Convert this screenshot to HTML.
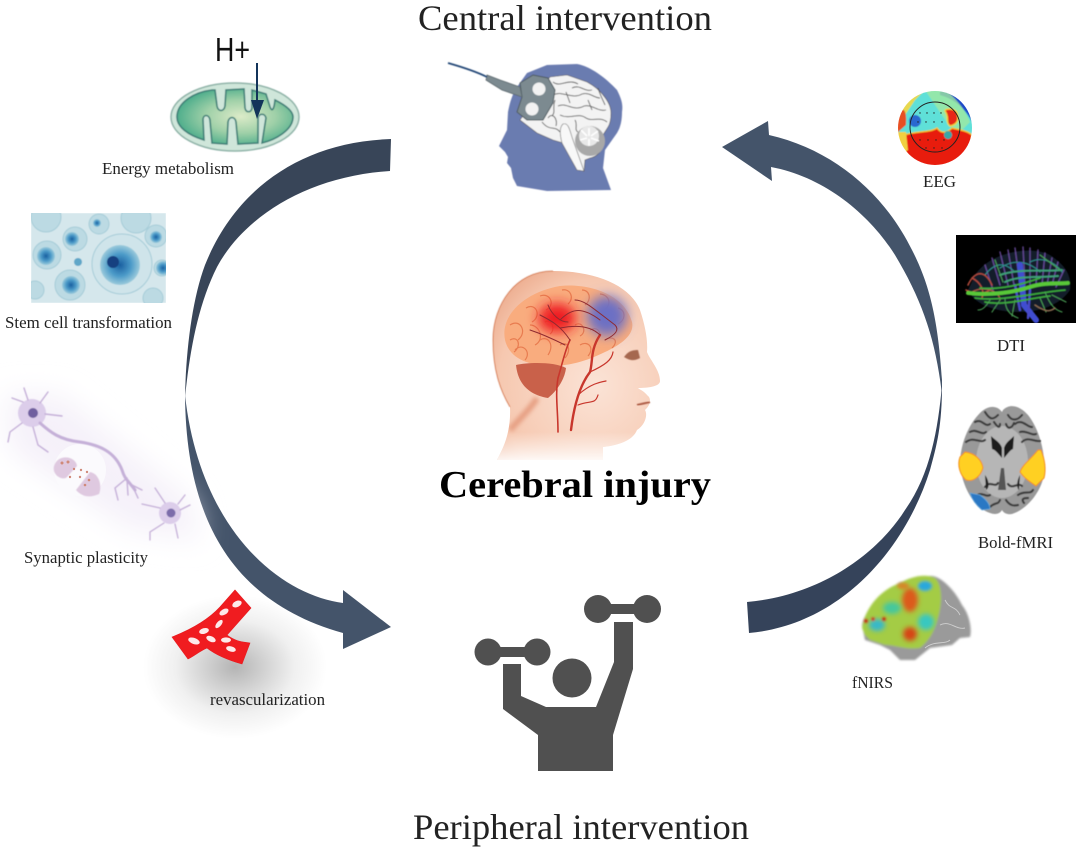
<!DOCTYPE html>
<html><head><meta charset="utf-8"><title>Cerebral injury</title>
<style>html,body{margin:0;padding:0;background:#fff}svg{display:block}
text{font-family:"Liberation Serif",serif;fill:#222}
.l{font-size:17px}</style></head><body>
<svg width="1080" height="852" viewBox="0 0 1080 852" xmlns="http://www.w3.org/2000/svg">
<defs>
<filter id="b05" x="-10%" y="-10%" width="120%" height="120%"><feGaussianBlur stdDeviation="0.5"/></filter>
<filter id="b1" x="-20%" y="-20%" width="140%" height="140%"><feGaussianBlur stdDeviation="1"/></filter>
<filter id="b2" x="-30%" y="-30%" width="160%" height="160%"><feGaussianBlur stdDeviation="2.2"/></filter>
<filter id="b6" x="-60%" y="-60%" width="220%" height="220%"><feGaussianBlur stdDeviation="6"/></filter>
<filter id="b14" x="-80%" y="-80%" width="260%" height="260%"><feGaussianBlur stdDeviation="14"/></filter>
<radialGradient id="mito" cx="55%" cy="50%" r="55%"><stop offset="0" stop-color="#dcebc8"/><stop offset=".55" stop-color="#9fd0a8"/><stop offset="1" stop-color="#4fae8c"/></radialGradient>
<radialGradient id="shadow"><stop offset="0" stop-color="#b4b4b4"/><stop offset=".3" stop-color="#d0d0d0"/><stop offset=".65" stop-color="#f0f0f0"/><stop offset="1" stop-color="#fff"/></radialGradient>
<radialGradient id="cell"><stop offset="0" stop-color="#1a5fa0"/><stop offset=".55" stop-color="#4b9ac8"/><stop offset="1" stop-color="#9ccbdc"/></radialGradient>
<radialGradient id="skin" cx="60%" cy="60%" r="75%"><stop offset="0" stop-color="#fbe3d6"/><stop offset=".7" stop-color="#f6c8b0"/><stop offset="1" stop-color="#e8a080"/></radialGradient>
<linearGradient id="fade" x1="0" y1="0" x2="0" y2="1"><stop offset="0" stop-color="#fff" stop-opacity="0"/><stop offset="1" stop-color="#fff"/></linearGradient>
<clipPath id="stemc"><rect x="31" y="213" width="135" height="90"/></clipPath>
<clipPath id="eegc"><circle cx="935" cy="128" r="37"/></clipPath>
<clipPath id="dtic"><rect x="956" y="235" width="120" height="88"/></clipPath>
<clipPath id="headc"><path d="M553 271C515 271 493 305 493 340C493 370 500 390 510 407C511 430 505 445 497 460L603 460L603 447C620 445 633 440 637 430C645 425 648 415 645 410C651 405 651 398 648 396C643 390 640 390 638 388C650 388 660 386 660 381C660 370 650 360 647 352C648 340 645 325 640 310C630 285 595 271 553 271Z"/></clipPath>
<clipPath id="brc"><path d="M505 340C500 315 525 292 560 286C590 283 625 295 632 322C635 335 620 345 605 352C585 362 570 365 555 366C530 366 510 360 505 340Z"/></clipPath>
</defs>
<rect width="1080" height="852" fill="#fff"/>

<!-- revascularization shadow -->
<ellipse cx="235" cy="667" rx="92" ry="72" fill="url(#shadow)"/>

<!-- curved arrows -->
<path d="M391 139C300 142 235 190 205 265C192 300 186 350 185 397C190 350 198 305 217 267C245 215 310 176 390 171Z" fill="#384558"/>
<path d="M185 395C186 510 225 600 343 633L343 649L391 627L343 590L343 603C280 595 200 530 185 395Z" fill="#44546a"/>
<path d="M942 380C938 320 930 285 912 250C885 195 835 150 769 135L768 121L722 147L772 181L771 167C825 177 870 215 895 255C922 300 936 340 942 395Z" fill="#44546a"/>
<path d="M942 385C942 425 937 445 930 470C905 550 840 625 749 633L747 602C825 595 880 550 905 510C930 475 938 430 942 385Z" fill="#35435a"/>

<!-- titles -->
<text x="418" y="30" font-size="36" textLength="294" lengthAdjust="spacingAndGlyphs">Central intervention</text>
<text x="413" y="839" font-size="36" textLength="336" lengthAdjust="spacingAndGlyphs">Peripheral intervention</text>
<text x="439" y="497" font-size="38" font-weight="bold" textLength="272" lengthAdjust="spacingAndGlyphs" style="fill:#000">Cerebral injury</text>

<!-- labels -->
<text class="l" x="102" y="174" textLength="132" lengthAdjust="spacingAndGlyphs">Energy metabolism</text>
<text class="l" x="5" y="328" textLength="167" lengthAdjust="spacingAndGlyphs">Stem cell transformation</text>
<text class="l" x="24" y="563" textLength="124" lengthAdjust="spacingAndGlyphs">Synaptic plasticity</text>
<text class="l" x="210" y="705" textLength="115" lengthAdjust="spacingAndGlyphs">revascularization</text>
<text class="l" x="923" y="187" textLength="33" lengthAdjust="spacingAndGlyphs">EEG</text>
<text class="l" x="997" y="351" textLength="28" lengthAdjust="spacingAndGlyphs">DTI</text>
<text class="l" x="978" y="548" textLength="75" lengthAdjust="spacingAndGlyphs">Bold-fMRI</text>
<text class="l" x="852" y="688" textLength="41" lengthAdjust="spacingAndGlyphs">fNIRS</text>
<text x="215" y="61" font-size="33" textLength="35" lengthAdjust="spacingAndGlyphs" style="font-family:'Liberation Sans',sans-serif;fill:#111">H+</text>

<!-- mitochondrion -->
<g filter="url(#b05)">
<ellipse cx="235" cy="117" rx="64" ry="34" fill="#cfe6da" stroke="#8fb3a8" stroke-width="1.5"/>
<path d="M177 117C177 102 195 92 212 90L215 90L217 106C218 112 224 112 225 106L226 90L244 89L245 108C246 113 251 113 252 108L252 90L266 94L270 107C272 112 274 110 275 100C283 104 293 110 293 117C293 130 275 140 262 143L266 118C265 113 259 113 258 118L258 143L238 144L236 122C235 116 229 116 228 122L227 144L212 143L210 120C209 114 203 114 203 120L204 140C188 135 177 127 177 117Z" fill="url(#mito)" stroke="#3c7f77" stroke-width="1.6"/>
</g>
<path d="M257 63V108" stroke="#13345a" stroke-width="2" fill="none"/>
<path d="M251 100L264 100L257 119Z" fill="#13345a"/>

<!-- stem cells -->
<g clip-path="url(#stemc)"><g filter="url(#b05)">
<rect x="31" y="213" width="135" height="90" fill="#d5e7ec"/>
<g fill="#bcdae3" stroke="#a5ccd8">
<circle cx="46" cy="217" r="15"/><circle cx="136" cy="218" r="15"/><circle cx="99" cy="224" r="10"/><circle cx="75" cy="239" r="12"/><circle cx="156" cy="236" r="11"/><circle cx="47" cy="255" r="14"/><circle cx="70" cy="285" r="15"/><circle cx="35" cy="290" r="9"/><circle cx="162" cy="268" r="8"/><circle cx="122" cy="264" r="30" fill="#cfe4ea"/><circle cx="153" cy="298" r="10"/>
</g>
<circle cx="120" cy="265" r="20" fill="url(#cell)"/><circle cx="113" cy="262" r="6" fill="#143f80"/>
<circle cx="46" cy="256" r="9" fill="url(#cell)"/><circle cx="72" cy="239" r="7" fill="url(#cell)"/><circle cx="71" cy="285" r="9" fill="url(#cell)"/><circle cx="156" cy="237" r="6" fill="url(#cell)"/><circle cx="163" cy="268" r="7" fill="url(#cell)"/><circle cx="97" cy="223" r="4" fill="url(#cell)"/><circle cx="78" cy="262" r="4" fill="#5ea6c8"/>
</g></g>

<!-- neurons -->
<path d="M5 395L60 395L190 500L200 540L130 530L10 450Z" fill="#f5f1f9" filter="url(#b14)"/>
<circle cx="80" cy="470" r="26" fill="#fbfafd"/>
<g filter="url(#b05)" fill="none" stroke="#c5b0d8" stroke-linecap="round">
<circle cx="32" cy="413" r="14" fill="#dccdea" stroke="none"/>
<circle cx="33" cy="413" r="5" fill="#6f5f9f" stroke="none"/>
<path d="M40 423C50 432 60 440 80 442C100 445 115 452 122 470C125 480 128 480 135 490" stroke-width="3"/>
<path d="M23 402L12 398M28 400L24 388M40 403L48 392M45 414L62 416M22 423L10 432L8 442M33 427L38 445L48 452" stroke-width="1.4"/>
<path d="M127 478L115 488L118 500M127 480L128 495M130 484L142 490M133 487L138 498" stroke-width="1.4"/>
<circle cx="170" cy="513" r="11" fill="#dccdea" stroke="none"/><circle cx="171" cy="513" r="4.5" fill="#7c6caa" stroke="none"/>
<path d="M160 508L142 504M164 523L150 532L150 540M175 524L178 538M178 504L185 495M180 510L190 505M165 503L155 488" stroke-width="1.3"/>
<path d="M54 466C58 453 76 456 77 466L66 478C60 480 52 474 54 466Z" fill="#dfc9e0" stroke="none"/>
<path d="M76 490L90 472C100 474 102 487 99 494C90 498 82 497 76 490Z" fill="#dfc9e0" stroke="none"/>
</g>
<g fill="#d08a7a"><circle cx="62" cy="463" r="1.5"/><circle cx="68" cy="462" r="1.5"/><circle cx="74" cy="469" r="1.2"/><circle cx="81" cy="470" r="1.2"/><circle cx="87" cy="472" r="1.2"/><circle cx="80" cy="477" r="1.2"/><circle cx="70" cy="477" r="1.2"/><circle cx="89" cy="480" r="1.3"/><circle cx="85" cy="485" r="1.3"/></g>

<!-- revascularization -->
<path d="M172 637C190 630 208 620 220 607L235 590L251 608L227 635C236 642 244 642 250 643L242 664C228 660 216 655 207 648C200 651 194 656 188 659Z" fill="#f01c20" stroke="#e61a1e" stroke-width=".6"/>
<g fill="#fdeaea"><ellipse cx="237" cy="604" rx="5" ry="3" transform="rotate(-25 237 604)"/><ellipse cx="224" cy="612" rx="5" ry="2.8" transform="rotate(-30 224 612)"/><ellipse cx="219" cy="624" rx="5" ry="2.4" transform="rotate(-50 219 624)"/><ellipse cx="204" cy="631" rx="5" ry="2.8" transform="rotate(-15 204 631)"/><ellipse cx="194" cy="641" rx="6" ry="3" transform="rotate(20 194 641)"/><ellipse cx="211" cy="639" rx="5" ry="2.8" transform="rotate(25 211 639)"/><ellipse cx="226" cy="640" rx="5" ry="2.6"/><ellipse cx="231" cy="649" rx="5" ry="2.6" transform="rotate(15 231 649)"/></g>

<!-- central head -->
<g filter="url(#b05)">
<path d="M547 65L577 64C590 66 606 78 617 90C622 100 623 105 622 112C622 122 620 128 617 133L605 150L603 168L611 190L547 191L517 186L513 178L511 168L507 163L508 157L505 152L499 146L507 130L508 112C510 102 512 95 517 87L527 73Z" fill="#6b7bb0"/>
<path d="M550 77L567 75L587 82C596 87 600 91 603 95C609 102 611 108 611 113C611 120 610 124 608 127L603 135L604 143C602 152 596 157 590 158L585 160L584 171L577 170L563 143L553 140L537 133L520 120Z" fill="#f3f3f3" stroke="#555" stroke-width=".6"/>
<circle cx="590" cy="141" r="15" fill="#a8a8a8"/>
<circle cx="589" cy="136" r="10" fill="#e8e8e8"/>
<path d="M587 136l-6-6M589 136l0-8M591 136l7-5M587 138l-7 2M591 138l8 3M589 139l0 7" stroke="#fff" stroke-width="1.6"/>
<path d="M563 124C569 122 570 132 573 140L584 171L577 170L562 143C560 135 559 128 563 124Z" fill="#f8f8f8" stroke="#666" stroke-width=".6"/>
<g fill="none" stroke="#555" stroke-width=".9">
<path d="M553 82C560 88 568 78 578 84M572 88C580 84 584 92 592 90M553 95C562 90 572 100 582 94C590 92 594 98 600 98M558 106C566 102 574 112 584 106C592 104 598 112 606 110M560 115C570 120 578 112 586 118C592 122 600 116 607 122M548 118C552 112 558 118 556 126M575 120C578 125 574 130 578 132M566 92L570 103M588 100L592 110M598 88C600 95 603 100 605 105M542 122C550 132 555 125 560 132M555 100C552 108 556 112 552 116"/>
</g>
<path d="M520 83L533 75L548 78L555 90L553 103L543 120L527 120L517 112L522 97Z" fill="#7c8a90" stroke="#4e5a60" stroke-width="1"/>
<path d="M487 75L500 80L520 87L522 97L502 90L486 80Z" fill="#7c8a90" stroke="#5c686e" stroke-width=".8"/>
<circle cx="539" cy="89" r="6.5" fill="#f2f2f2"/><circle cx="532" cy="109" r="6.5" fill="#f2f2f2"/>
<path d="M448 63C462 67 475 71 487 77" fill="none" stroke="#254a78" stroke-width="1.8"/>
</g>

<!-- cerebral injury head -->
<g clip-path="url(#headc)">
<rect x="485" y="265" width="185" height="200" fill="url(#skin)"/>
<path d="M505 340C500 315 525 292 560 286C590 283 625 295 632 322C635 335 620 345 605 352C585 362 570 365 555 366C530 366 510 360 505 340Z" fill="#f9ac7e"/>
<g clip-path="url(#brc)" fill="none" stroke="#e87c50" stroke-width="1.2">
<path d="M510 325C520 318 528 332 518 340M515 350C522 342 532 352 525 360M526 308C536 302 542 316 532 322M540 296C550 292 556 305 546 310M562 290C570 288 575 298 568 304M582 290C590 290 592 300 585 305M600 294C610 295 612 305 604 310M618 308C626 310 626 320 618 324M530 325C540 325 545 340 535 345M540 340C548 335 555 345 548 355M560 345C568 340 572 350 565 358M580 345C588 340 595 348 588 356M605 340C612 335 620 340 612 348M510 340C518 335 522 346 514 352M545 322C552 318 556 330 550 334M590 330C598 325 604 335 596 340M575 325C582 320 588 332 580 336"/>
</g>
<ellipse cx="557" cy="318" rx="19" ry="15" fill="#ee1c20" filter="url(#b6)"/>
<ellipse cx="607" cy="316" rx="20" ry="20" fill="#6c70c4" filter="url(#b6)"/>
<path d="M516 365C530 362 555 362 566 368C565 378 558 390 548 398C530 395 518 385 516 365Z" fill="#c9614a"/>
<path d="M537 398C530 410 518 420 510 430" stroke="#e69f82" stroke-width="6" fill="none" filter="url(#b2)"/>
<g fill="none" stroke="#c8362c" stroke-linecap="round">
<path d="M571 430C574 405 580 385 590 372C593 362 590 350 600 335" stroke-width="2.4"/>
<path d="M558 432C558 410 555 395 558 378C562 365 565 350 570 340" stroke-width="1.6"/>
<path d="M578 395C590 384 600 382 606 381M578 405C590 400 595 405 598 395M590 372C605 365 612 360 613 352" stroke-width="1.2"/>
</g>
<g fill="none" stroke="#8e2a30" stroke-width="1" stroke-linecap="round">
<path d="M570 340C560 325 550 320 540 315M565 345C555 340 545 335 530 330M560 320C570 310 580 305 600 320M575 300C585 300 595 310 615 325C620 330 615 335 605 340M600 335C590 325 575 325 560 328M548 305C552 315 560 322 568 322"/>
</g>
<rect x="485" y="432" width="185" height="32" fill="url(#fade)"/>
</g>
<path d="M553 271C515 271 493 305 493 340C493 370 500 390 510 407" fill="none" stroke="#d98a68" stroke-width="1" filter="url(#b05)"/>
<path d="M638 350C628 350 626 355 624 357C632 362 636 360 640 358Z" fill="#a5674f" filter="url(#b05)"/>
<path d="M637 405L650 402" stroke="#b0604a" stroke-width="2" filter="url(#b05)"/>

<!-- dumbbell figure -->
<g fill="#505050">
<circle cx="488" cy="652" r="13.5"/><circle cx="537" cy="652" r="13.5"/><rect x="488" y="647" width="49" height="10"/>
<circle cx="598" cy="609" r="14"/><circle cx="647" cy="609" r="14"/><rect x="598" y="604" width="49" height="10"/>
<circle cx="572" cy="678" r="19.5"/>
<path d="M503 664H521V696L546 707H596L614 662V622H633V669L613 735V771H538V735L503 709Z"/>
</g>

<!-- EEG -->
<g clip-path="url(#eegc)"><g filter="url(#b05)">
<rect x="896" y="90" width="78" height="78" fill="#5fe0d8"/>
<path d="M896 90H925L915 100L905 115L896 125Z" fill="#e8d850"/>
<path d="M940 88H975V128C968 112 958 100 940 95Z" fill="#1f48c8"/>
<path d="M925 90H945C958 100 965 110 970 122L962 130L950 127Z" fill="#a0e8a0" opacity=".8"/>
<ellipse cx="915" cy="121" rx="6" ry="6" fill="#2b68d0"/>
<path d="M945 111C945 108 955 108 957 113C960 122 955 125 950 126C945 122 950 118 945 111Z" fill="#e82818" stroke="#f0d040" stroke-width="1.5"/>
<path d="M905 135C915 131 930 133 937 128C942 135 948 132 952 128C960 130 968 131 972 135C972 155 955 170 935 170C915 170 900 155 905 135Z" fill="#e81c10" stroke="#f0c030" stroke-width="1.5"/>
<path d="M896 110H904C907 115 906 120 906 125L898 132L896 132Z" fill="#e85020"/>
<path d="M895 132H906L908 150L900 155Z" fill="#f0d040"/>
<circle cx="948" cy="135" r="4" fill="#38a8a8"/>
</g></g>
<circle cx="935" cy="127" r="25" fill="none" stroke="#222" stroke-width="1"/>
<g fill="#222"><circle cx="920" cy="113" r=".7"/><circle cx="927" cy="113" r=".7"/><circle cx="934" cy="113" r=".7"/><circle cx="941" cy="113" r=".7"/><circle cx="918" cy="122" r=".7"/><circle cx="926" cy="122" r=".7"/><circle cx="934" cy="122" r=".7"/><circle cx="942" cy="122" r=".7"/><circle cx="920" cy="140" r=".7"/><circle cx="928" cy="140" r=".7"/><circle cx="936" cy="140" r=".7"/><circle cx="944" cy="140" r=".7"/><circle cx="926" cy="148" r=".7"/><circle cx="934" cy="148" r=".7"/><circle cx="942" cy="148" r=".7"/></g>

<!-- DTI -->
<rect x="956" y="235" width="120" height="88" fill="#000"/>
<g clip-path="url(#dtic)" fill="none" filter="url(#b05)" stroke-linecap="round">
<path d="M975 275C990 252 1030 245 1050 255C1065 265 1072 275 1070 290C1060 305 1040 312 1020 312C995 312 975 305 968 290Z" fill="#1a2a3a" stroke="none" opacity=".7"/>
<path d="M985 265L993 290M992 258L1000 285M1000 252L1008 285M1008 250L1014 285M1015 248L1020 285M1023 247L1025 285M1030 248L1030 285M1038 250L1036 285M1045 253L1042 285M1052 258L1047 285M1058 262L1052 285M1064 270L1056 287" stroke="#7a55b5" stroke-width="1.5" opacity=".75"/>
<path d="M985 275C995 262 1005 262 1015 272M1000 268C1015 258 1030 262 1040 272M1030 262C1042 256 1055 262 1062 272" stroke="#2e8a8a" stroke-width="1.2"/>
<path d="M968 285C975 270 985 270 992 285M966 290C975 295 985 295 992 288M972 278C980 282 985 290 982 298" stroke="#b04a3c" stroke-width="1.6"/>
<path d="M972 292C985 285 1000 292 1000 300" stroke="#a05a45" stroke-width="1.5"/>
<path d="M1020 265L1024 305L1036 320" stroke="#3f4dd0" stroke-width="6"/>
<path d="M1030 290L1028 318M1015 285L1020 310" stroke="#4a48c8" stroke-width="2.5"/>
<path d="M968 293C990 296 1015 292 1030 287C1045 282 1060 284 1068 283" stroke="#58c838" stroke-width="4"/>
<path d="M975 298C1000 302 1040 292 1065 290M980 288C1000 290 1020 285 1040 278M985 302C1005 306 1030 298 1050 296" stroke="#3aa83a" stroke-width="1.8"/>
<path d="M1000 275C1020 268 1045 272 1062 270M1005 282C1020 275 1040 278 1058 276" stroke="#3e9f78" stroke-width="2"/>
<path d="M990 300C985 308 982 310 978 310M1045 292C1050 305 1055 310 1062 312M1005 298C1005 310 1010 315 1018 318M1040 255L1060 270M995 260L1003 282M1000 300L992 312M1052 295L1066 302M1040 298L1046 312M1015 300L1012 316" stroke="#4a9f55" stroke-width="1.1"/>
<path d="M1035 305C1045 312 1050 312 1055 308" stroke="#8a6a50" stroke-width="1.5"/>
</g>

<!-- fMRI -->
<g filter="url(#b05)">
<path d="M1003 410C1010 403 1020 406 1028 415C1040 430 1046 455 1044 475C1040 495 1025 510 1012 514C1006 515 1003 512 1002 510C1000 514 995 515 990 513C975 508 963 490 960 465C960 445 968 425 980 413C988 405 997 405 1002 412Z" fill="#999"/>
<ellipse cx="1002" cy="462" rx="26" ry="36" fill="#b6b6b6"/>
<g fill="none" stroke="#3e3e3e" stroke-width="2.2" stroke-linecap="round">
<path d="M975 422C982 418 985 428 990 424M970 432C976 428 982 436 986 432M1015 424C1022 418 1028 428 1032 427M1020 432C1026 430 1032 436 1036 434M966 442C974 436 980 444 985 440M1022 442C1028 436 1034 442 1040 441M985 412C990 420 993 420 998 415M1008 415C1012 422 1018 420 1022 415M994 422C998 428 1000 428 1000 424M1006 424C1008 430 1012 428 1014 423M975 497C982 490 985 498 990 495M1018 495C1025 490 1030 495 1033 490M990 507C995 502 998 505 1000 500M1006 500C1010 506 1014 506 1018 505M985 487C990 480 995 488 998 483M1008 484C1012 490 1018 482 1022 486M1024 503C1020 498 1026 498 1028 498"/>
</g>
<path d="M991 436C995 440 1000 442 1002 448V458C998 454 996 450 992 449ZM1014 436C1010 440 1006 442 1004 448V458C1008 454 1010 450 1013 449Z" fill="#1e1e1e"/>
<path d="M985 475C989 480 990 488 986 490ZM1020 475C1017 480 1016 488 1019 490Z" fill="#222"/>
<path d="M1001 468L1004 468L1006 490H998Z" fill="#555"/>
<path d="M965 452C975 453 982 460 983 468C980 478 972 482 966 480C960 475 957 465 960 457Z" fill="#ffd024" stroke="#f28a1a" stroke-width="1"/>
<path d="M1041 450C1045 460 1046 470 1044 478L1036 486C1030 482 1024 478 1020 472C1022 465 1030 460 1038 450Z" fill="#ffd024" stroke="#f28a1a" stroke-width="1"/>
<path d="M970 493L980 495C987 500 990 505 990 509L982 510C976 505 972 500 970 493Z" fill="#2c78c4" stroke="#68a8d8" stroke-width=".8"/>
</g>

<!-- fNIRS -->
<g filter="url(#b1)">
<path d="M930 576C940 575 955 590 962 605C970 615 972 630 970 637L960 638L952 645L930 648L915 660L900 660L890 650L880 645L865 640L862 625C865 610 880 595 900 582Z" fill="#9a9a9a"/>
<path d="M900 583C910 577 925 573 935 578C943 585 942 605 938 618C935 630 930 640 920 648C905 650 895 645 885 645L870 640L865 635L862 628C865 608 880 590 900 583Z" fill="#a4cc44"/>
<ellipse cx="910" cy="600" rx="8" ry="12" fill="#dc5a1c" filter="url(#b2)"/>
<ellipse cx="910" cy="634" rx="7" ry="7" fill="#d64418" filter="url(#b2)"/>
<ellipse cx="925" cy="586" rx="7" ry="5" fill="#2ca8dc" filter="url(#b1)"/>
<ellipse cx="926" cy="622" rx="8" ry="8" fill="#38c8c0" filter="url(#b2)"/>
<ellipse cx="892" cy="608" rx="9" ry="6" fill="#44c89c" filter="url(#b2)"/>
<ellipse cx="877" cy="625" rx="8" ry="6" fill="#38b8c8" filter="url(#b2)"/>
<ellipse cx="903" cy="586" rx="6" ry="3.5" fill="#d4882a" filter="url(#b1)"/>
<circle cx="866" cy="621" r="2.3" fill="#c01e10"/><circle cx="873" cy="619" r="2" fill="#c8281a"/><circle cx="884" cy="619" r="2.3" fill="#c01e10"/>
</g>
<g fill="none" stroke="#cfcfcf" stroke-width=".9"><path d="M945 600C950 610 955 605 960 615M940 625C950 620 955 630 965 628M925 648C935 640 945 645 950 640"/></g>
</svg>
</body></html>
